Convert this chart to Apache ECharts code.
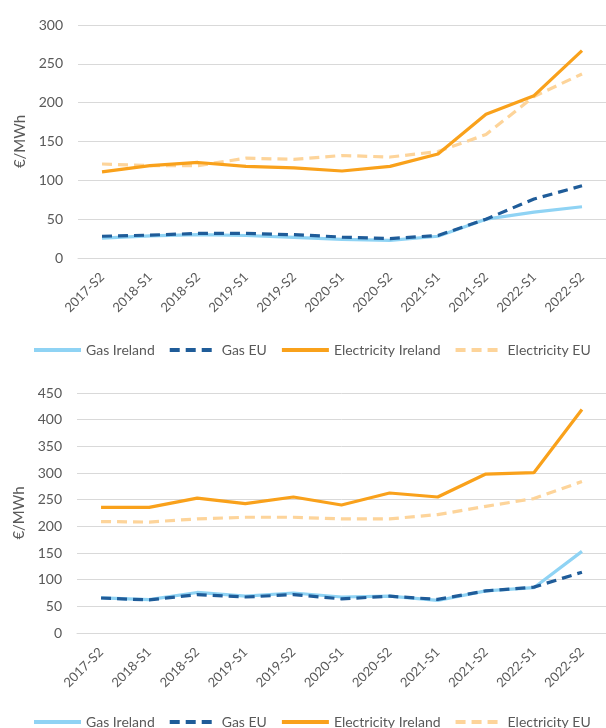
<!DOCTYPE html>
<html>
<head>
<meta charset="utf-8">
<script src="https://cdn.jsdelivr.net/npm/echarts@6/dist/echarts.min.js"></script>
<style>
html,body{margin:0;padding:0;background:#fff;}
#c{width:606px;height:728px;}
</style>
</head>
<body>
<div id="c"></div>
<script>
const categories = ['2017-S2','2018-S1','2018-S2','2019-S1','2019-S2','2020-S1','2020-S2','2021-S1','2021-S2','2022-S1','2022-S2'];

// Top chart
const topGasIreland = [25.6, 28.6, 30, 29, 26.5, 24, 22.6, 28, 50, 59, 66];
const topGasEU = [28, 29.5, 31.6, 31.6, 30, 27, 25, 29, 50, 76, 93];
const topElecIreland = [111, 119, 123, 118, 116, 112, 118, 134, 185, 209, 267];
const topElecEU = [121, 119, 119, 128.5, 127, 132, 130, 137, 159, 208, 237];

// Bottom chart
const botGasIreland = [66, 62.5, 76, 69, 75, 67.5, 69, 61, 79, 85, 153];
const botGasEU = [65.6, 62, 72, 67.5, 72, 64, 69, 63, 79, 86, 114];
const botElecIreland = [235.6, 235.6, 253, 242.5, 255, 240, 262.5, 255, 298, 300.6, 419];
const botElecEU = [209, 208, 214, 217, 217, 214, 214, 222, 237.5, 252, 284];

const topTicks = {min: 0, max: 300, interval: 50};
const botTicks = {min: 0, max: 450, interval: 50};

const FONT = 'Lato, "Open Sans", sans-serif';
const TXT = '#595959';
const GRID = '#d9d9d9';
const C_GI = '#8fd3f4';
const C_GE = '#1f5c99';
const C_EI = '#f9a11b';
const C_EE = '#fdd49a';

function xAxis(gi){
  return {
    type: 'category', gridIndex: gi, data: categories, boundaryGap: true,
    axisLine: {show: true, lineStyle: {color: GRID}},
    axisTick: {show: false},
    axisLabel: {rotate: 45, color: TXT, fontFamily: FONT, fontSize: 13, margin: 17}
  };
}
function yAxis(gi, t){
  return {
    type: 'value', gridIndex: gi, min: t.min, max: t.max, interval: t.interval,
    name: '€/MWh', nameLocation: 'middle', nameRotate: 90, nameGap: 48,
    nameTextStyle: {color: TXT, fontFamily: FONT, fontSize: 15},
    axisLine: {show: false}, axisTick: {show: false},
    axisLabel: {color: TXT, fontFamily: FONT, fontSize: 14, margin: 15},
    splitLine: {lineStyle: {color: GRID, width: 1}}
  };
}
function ser(name, data, gi, color, dashed, z){
  return {
    name: name, type: 'line', data: data, xAxisIndex: gi, yAxisIndex: gi,
    symbol: 'none', showSymbol: false, z: z,
    lineStyle: {color: color, width: 3.2, type: dashed ? [10, 6] : 'solid'},
    itemStyle: {color: color},
    emphasis: {disabled: true}, animation: false
  };
}
const names = ['Gas Ireland', 'Gas EU', 'Electricity Ireland', 'Electricity EU'];
function legend(top){
  return {
    top: top, left: 32, padding: 0, itemWidth: 47, itemHeight: 10, itemGap: 13,
    itemStyle: {opacity: 0, borderWidth: 0},
    lineStyle: {width: 4},
    textStyle: {color: TXT, fontFamily: FONT, fontSize: 14},
    data: names
  };
}

const chart = echarts.init(document.getElementById('c'), null, {renderer: 'canvas'});
chart.setOption({
  animation: false,
  backgroundColor: '#fff',
  grid: [
    {left: 78, top: 25, width: 535, height: 233},
    {left: 77, top: 393, width: 536, height: 240}
  ],
  xAxis: [xAxis(0), xAxis(1)],
  yAxis: [yAxis(0, topTicks), yAxis(1, botTicks)],
  legend: [legend(343), legend(715)],
  series: [
    ser('Gas Ireland', topGasIreland, 0, C_GI, false, 2),
    ser('Gas EU', topGasEU, 0, C_GE, true, 3),
    ser('Electricity Ireland', topElecIreland, 0, C_EI, false, 4),
    ser('Electricity EU', topElecEU, 0, C_EE, true, 3),
    ser('Gas Ireland', botGasIreland, 1, C_GI, false, 2),
    ser('Gas EU', botGasEU, 1, C_GE, true, 3),
    ser('Electricity Ireland', botElecIreland, 1, C_EI, false, 4),
    ser('Electricity EU', botElecEU, 1, C_EE, true, 3)
  ]
});
</script>
</body>
</html>
